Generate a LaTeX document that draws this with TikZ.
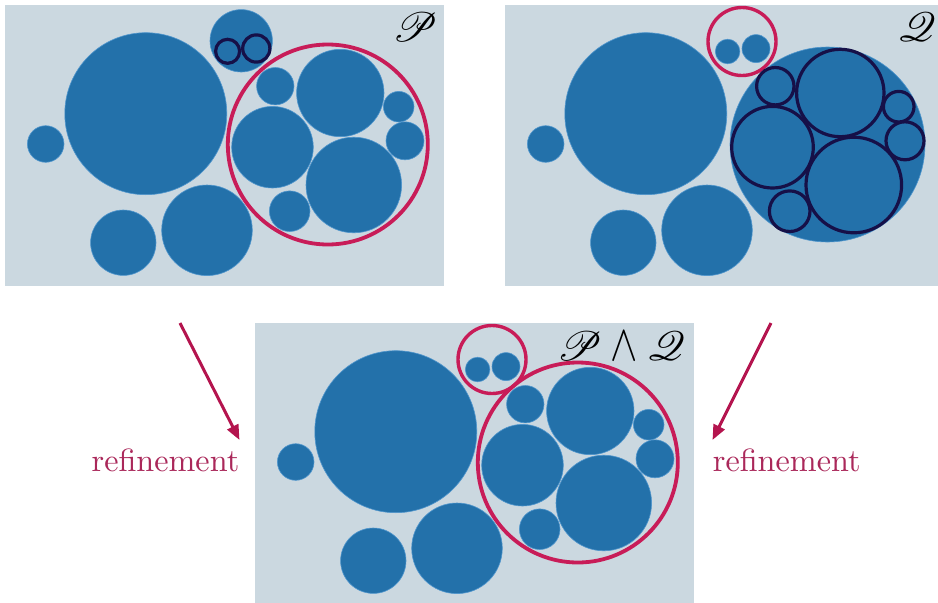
\documentclass[tikz,border=0pt]{standalone}
\usepackage{mathrsfs}
\usetikzlibrary{arrows.meta}

\definecolor{panelbg}{RGB}{203,216,224}
\definecolor{discblue}{RGB}{35,113,170}
\definecolor{discedge}{RGB}{80,150,205}
\definecolor{ringred}{RGB}{200,28,88}
\definecolor{ringnavy}{RGB}{22,16,72}
\definecolor{labelred}{RGB}{170,40,90}
\definecolor{arrowred}{RGB}{180,20,78}

\tikzset{
  panel/.style={rectangle, fill=panelbg, draw=none, inner sep=0pt,
    minimum width=439pt, minimum height=281pt, anchor=north west},
  disc/.style={fill=discblue, draw=discedge, line width=0.6pt},
  redring/.style={draw=ringred, line width=3.8pt},
  smallredring/.style={draw=ringred, line width=3.4pt},
  navyring/.style={draw=ringnavy, line width=3.2pt, fill=discblue},
  reflabel/.style={text=labelred, inner sep=0pt},
  refarrow/.style={draw=arrowred, line width=3pt,
    -{Triangle[length=15pt,width=12pt]}},
  panellabel/.style={inner sep=0pt}
}

% discs shared by every partition
\newcommand\drawCommonDiscs{%
  \filldraw[disc] (145.8,113.7) circle[radius=81pt];
  \filldraw[disc] (45.7,144) circle[radius=18.3pt];
  \filldraw[disc] (123.3,242.7) circle[radius=32.7pt];
  \filldraw[disc] (207,230.3) circle[radius=45.3pt];
}
% the two small discs of the upper block
\newcommand\drawPairDiscs{%
  \filldraw[disc] (227.6,51.5) circle[radius=12.3pt];
  \filldraw[disc] (256.0,48.6) circle[radius=14pt];
}
% the seven discs of the large block
\newcommand\drawSevenDiscs[1]{%
  \filldraw[#1] (275.3,86.2) circle[radius=18.7pt];
  \filldraw[#1] (340.3,93) circle[radius=43.7pt];
  \filldraw[#1] (398.7,106.7) circle[radius=15.3pt];
  \filldraw[#1] (405,140.8) circle[radius=19pt];
  \filldraw[#1] (272.5,147.2) circle[radius=40.8pt];
  \filldraw[#1] (353.8,185) circle[radius=47.8pt];
  \filldraw[#1] (289.7,211.2) circle[radius=20.3pt];
}
% captions: 10pt text enlarged
\newcommand\refword{\scalebox{3.22}{refinement}}
\newcommand\biglabel[1]{\scalebox{4.1}{#1}}
\newcommand\tallwedge{\mathbin{\scalebox{1}[1.25]{$\wedge$}}}

\begin{document}
\begin{tikzpicture}[x=1pt,y=-1pt]
  \useasboundingbox (0,0) rectangle (938,603);
  \clip (0,0) rectangle (938,603);

  % partition P
  \node[panel] (panelP) at (5,5) {};
  \drawCommonDiscs
  \filldraw[disc] (241.2,40.8) circle[radius=31.2pt];
  \draw[navyring, fill=none] (227.6,51.3) circle[radius=12pt];
  \draw[navyring, fill=none] (256.3,48.5) circle[radius=13.6pt];
  \drawSevenDiscs{disc}
  \draw[redring] (327.8,144.5) circle[radius=100pt];
  \node[panellabel] (labP) at (415,27.5) {\biglabel{$\mathscr{P}$}};

  % partition Q
  \begin{scope}[shift={(500,0)}]
    \node[panel] (panelQ) at (5,5) {};
    \drawCommonDiscs
    \drawPairDiscs
    \draw[smallredring] (242,41.5) circle[radius=34pt];
    \filldraw[disc] (327.5,144.5) circle[radius=97.5pt];
    \drawSevenDiscs{navyring}
    \node[panellabel] (labQ) at (417,27) {\biglabel{$\mathscr{Q}$}};
  \end{scope}

  % common refinement P and Q
  \begin{scope}[shift={(250,318)}]
    \node[panel] (panelPQ) at (5,5) {};
    \drawCommonDiscs
    \drawPairDiscs
    \draw[smallredring] (242,41.5) circle[radius=34pt];
    \drawSevenDiscs{disc}
    \draw[redring] (327.8,144.5) circle[radius=100pt];
    \node[panellabel] (labPQ) at (371,28)
      {\biglabel{$\mathscr{P}\tallwedge\mathscr{Q}$}};
  \end{scope}

  % refinement arrows
  \coordinate (arrLs) at (180,323);
  \coordinate (arrLe) at (239.5,440);
  \coordinate (arrRs) at (771,323);
  \coordinate (arrRe) at (712.5,440);
  \draw[refarrow] (arrLs) -- (arrLe);
  \draw[refarrow] (arrRs) -- (arrRe);
  \node[reflabel, anchor=base east] (refL) at (239.5,471.7) {\refword};
  \node[reflabel, anchor=base west] (refR) at (712.7,471.7) {\refword};
\end{tikzpicture}
\end{document}
